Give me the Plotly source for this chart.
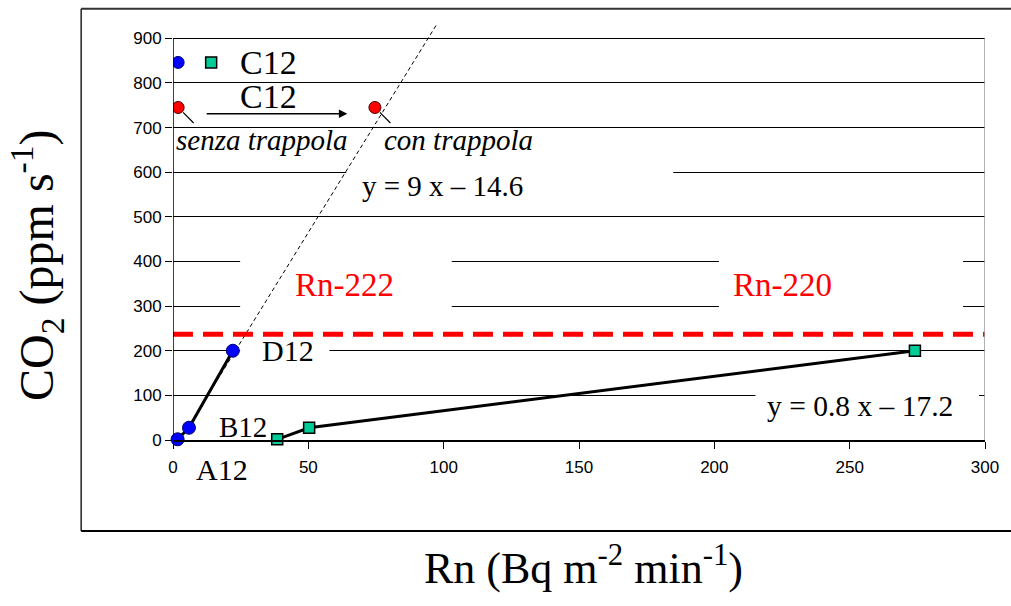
import plotly.graph_objects as go

# ---------------- data ----------------
rn222_x = [1.7, 5.9, 22.1]          # blue circles (Rn-222): A12 ... D12
rn222_y = [1.6, 27.5, 200.0]
rn220_x = [38.5, 50.3, 274.1]       # teal squares (Rn-220): B12 ...
rn220_y = [1.6, 27.5, 200.0]
trap_x = [1.9, 74.6]                # red circles: senza / con trappola
trap_y = [745.0, 745.0]
key_blue_x = [1.9]                  # small key markers next to "C12"
key_teal_x = [14.1]
key_y = [846.0]
trend_x = [2.7, 97.2]               # dashed fit line  y = 9 x - 14.6
trend_y = [0.0, 929.0]
threshold_y = 237.0                 # red dashed separation line
x_ticks = [0, 50, 100, 150, 200, 250, 300]
y_ticks = [0, 100, 200, 300, 400, 500, 600, 700, 800, 900]

SERIF = "Liberation Serif, Times New Roman, serif"
SANS = "Liberation Sans, Arial, sans-serif"

fig = go.Figure()

# dashed trend line
fig.add_trace(go.Scatter(x=trend_x, y=trend_y, mode="lines",
                         line=dict(color="black", width=1, dash="4px,3px"),
                         hoverinfo="skip", showlegend=False))
# red threshold line
fig.add_trace(go.Scatter(x=[x_ticks[0], x_ticks[-1]], y=[threshold_y, threshold_y],
                         mode="lines", line=dict(color="#FF0000", width=5, dash="20px,10px"),
                         hoverinfo="skip", showlegend=False))
# Rn-222 series
fig.add_trace(go.Scatter(x=rn222_x, y=rn222_y, mode="lines+markers",
                         line=dict(color="black", width=3),
                         marker=dict(symbol="circle", size=13, color="#0000FF",
                                     line=dict(color="#000066", width=1)),
                         cliponaxis=False, showlegend=False))
# Rn-220 series
fig.add_trace(go.Scatter(x=rn220_x, y=rn220_y, mode="lines+markers",
                         line=dict(color="black", width=3),
                         marker=dict(symbol="square", size=11, color="#00CC99",
                                     line=dict(color="black", width=1.5)),
                         cliponaxis=False, showlegend=False))
# trap markers
fig.add_trace(go.Scatter(x=trap_x, y=trap_y, mode="markers",
                         marker=dict(symbol="circle", size=12, color="#FF0000",
                                     line=dict(color="#440000", width=1)),
                         showlegend=False))
# key markers
fig.add_trace(go.Scatter(x=key_blue_x, y=key_y, mode="markers",
                         marker=dict(symbol="circle", size=12, color="#0000FF",
                                     line=dict(color="#000066", width=1)),
                         showlegend=False))
fig.add_trace(go.Scatter(x=key_teal_x, y=key_y, mode="markers",
                         marker=dict(symbol="square", size=11, color="#00CC99",
                                     line=dict(color="black", width=1.5)),
                         showlegend=False))

shapes = []
# white boxes hiding gridlines behind labels (between grid and traces)
for (x0, x1, y0, y1) in [(64, 184.8, 585, 615), (24.8, 103, 285, 415),
                         (201.7, 291.9, 285, 415), (24.8, 57.8, 188, 212),
                         (215.2, 297.8, 88, 112)]:
    shapes.append(dict(type="rect", xref="x", yref="y", x0=x0, x1=x1, y0=y0, y1=y1,
                       fillcolor="white", line=dict(width=0), layer="between"))
# y axis line, right border
shapes.append(dict(type="line", xref="x", yref="y", x0=0, x1=0, y0=0, y1=900,
                   line=dict(color="black", width=1.5), layer="above"))
shapes.append(dict(type="line", xref="x", yref="y", x0=300, x1=300, y0=0, y1=900,
                   line=dict(color="#999999", width=1.5), layer="above"))
# outer frame
shapes.append(dict(type="line", xref="paper", yref="paper", x0=-0.1131, x1=1.1, y0=1.017, y1=1.017,
                   line=dict(color="#333333", width=2)))
shapes.append(dict(type="line", xref="paper", yref="paper", x0=-0.1131, x1=-0.1131, y0=1.017, y1=-0.2144,
                   line=dict(color="#222222", width=1.5)))
shapes.append(dict(type="line", xref="paper", yref="paper", x0=-0.1131, x1=1.1, y0=-0.2144, y1=-0.2144,
                   line=dict(color="black", width=2)))

ann = []
def txt(x, y, s, size=30, color="black", italic=False, yref="y"):
    ann.append(dict(x=x, y=y, xref="x", yref=yref, text=(f"<i>{s}</i>" if italic else s),
                    showarrow=False, font=dict(family=SERIF, size=size, color=color),
                    xanchor="center", yanchor="middle"))

txt(35.4, 846, "C12", 34)
txt(35.4, 770, "C12", 34)
txt(32.7, 672, "senza trappola", 29, italic=True)
txt(105.5, 672, "con trappola", 29, italic=True)
txt(99.6, 569, "y = 9 x – 14.6", 29)
txt(63.5, 347, "Rn-222", 33, color="#FF0000")
txt(225.1, 347, "Rn-220", 33, color="#FF0000")
txt(42.4, 201, "D12", 30)
txt(25.9, 30, "B12", 29)
txt(18.0, -0.0707, "A12", 30, yref="paper")   # sits just below the x axis
txt(254.0, 76, "y = 0.8 x – 17.2", 29.5)

# arrow between C12 conditions
ann.append(dict(x=64.4, y=731, ax=11.9, ay=731, xref="x", yref="y", axref="x", ayref="y",
                text="", showarrow=True, arrowhead=2, arrowsize=1.3, arrowwidth=1.3,
                arrowcolor="black"))
# leader lines from red points
for i in range(len(trap_x)):
    ann.append(dict(x=trap_x[i], y=trap_y[i], xref="x", yref="y", ax=17, ay=17,
                    text="", showarrow=True, arrowhead=0, arrowwidth=1.2,
                    arrowcolor="black", standoff=7))

# axis titles
ann.append(dict(x=-0.168, y=0.412, xref="paper", yref="paper", textangle=-90,
                text="CO<sub>2</sub> (ppm s<sup>-1</sup>)", showarrow=False,
                font=dict(family=SERIF, size=48, color="black"),
                xanchor="center", yanchor="middle"))
ann.append(dict(x=0.506, y=-0.295, xref="paper", yref="paper",
                text="Rn (Bq m<sup>-2</sup> min<sup>-1</sup>)", showarrow=False,
                font=dict(family=SERIF, size=44, color="black"),
                xanchor="center", yanchor="middle"))

fig.update_layout(
    width=1011, height=606,
    margin=dict(l=172.5, r=21, t=15.6, b=166, pad=0),
    paper_bgcolor="white", plot_bgcolor="white",
    shapes=shapes, annotations=ann, showlegend=False,
    xaxis=dict(range=[0, 300], tickvals=x_ticks, ticks="outside", ticklen=7,
               tickcolor="black", showline=True, linecolor="black", linewidth=1.5,
               showgrid=False, zeroline=False, ticklabelstandoff=4,
               tickfont=dict(family=SANS, size=17, color="black")),
    yaxis=dict(range=[0, 950], tickvals=y_ticks, ticks="outside", ticklen=7,
               tickcolor="black", showline=False, showgrid=True, gridcolor="black",
               gridwidth=1, zeroline=False,
               tickfont=dict(family=SANS, size=17, color="black")),
)

fig.write_html("out.html", config={"displayModeBar": False},
               post_script="document.body.style.margin='0px';document.body.style.overflow='hidden';")
